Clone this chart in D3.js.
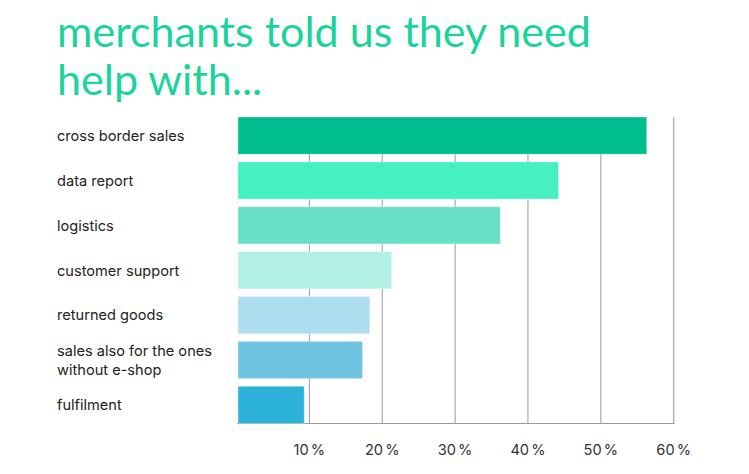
<!DOCTYPE html>
<html>
<head>
<meta charset="utf-8">
<script src="https://cdn.jsdelivr.net/npm/d3@7"></script>
<style>
  html, body { margin: 0; padding: 0; background: #fff; }
  svg { display: block; }
</style>
</head>
<body>
<svg id="chart" width="749" height="474"></svg>
<script>
const titleLines = ["merchants told us they need", "help with..."];
const categories = [
  ["cross border sales"],
  ["data report"],
  ["logistics"],
  ["customer support"],
  ["returned goods"],
  ["sales also for the ones", "without e-shop"],
  ["fulfilment"]
];
const values = [56.3, 44.2, 36.2, 21.3, 18.3, 17.3, 9.3];
const barColors = ["#00BD8F", "#47F0C3", "#67E0C5", "#B3F0E4", "#ADDEF0", "#6EC3E0", "#2DB3D9"];
const tickValues = [10, 20, 30, 40, 50, 60];
const tickLabels = ["10 %", "20 %", "30 %", "40 %", "50 %", "60 %"];

(function () {
const svg = d3.select("#chart");
const mLeft = 236.5, mRight = 673.7, mTop = 117, mBottom = 423.5;

const x = d3.scaleLinear().domain([0, 60]).range([mLeft, mRight]);
const y = d3.scaleBand().domain(d3.range(categories.length)).range([mTop, mBottom]).paddingInner(0.17).paddingOuter(0);

// Title
const title = svg.append("g").attr("fill", "#1BD39C")
  .attr("font-family", "Lato, 'Open Sans', sans-serif").attr("font-size", 40);
titleLines.forEach((t, i) => {
  title.append("text").attr("x", 57).attr("y", 47 + i * 48).text(t);
});
const firstLine = title.select("text").node();
const w = firstLine.getComputedTextLength();
title.attr("font-size", 40 * 534 / w);

// Gridlines
svg.append("g").selectAll("line").data(tickValues).join("line")
  .attr("x1", d => x(d)).attr("x2", d => x(d))
  .attr("y1", mTop).attr("y2", mBottom)
  .attr("stroke", d => d === 60 ? "#b5b5b5" : "#9a9a9a")
  .attr("stroke-width", d => d === 60 ? 1.6 : 1);

// Baseline axis
svg.append("line")
  .attr("x1", x(0) + 0.5).attr("x2", x(60) + 0.8)
  .attr("y1", mBottom).attr("y2", mBottom)
  .attr("stroke", "#9a9a9a").attr("stroke-width", 1);

// Bars
svg.append("g").selectAll("rect").data(values).join("rect")
  .attr("x", x(0) + 1.5)
  .attr("y", (d, i) => y(i))
  .attr("width", d => x(d) - x(0) - 1.5)
  .attr("height", y.bandwidth())
  .attr("fill", (d, i) => barColors[i])
  .attr("stroke", "rgba(255,255,255,0.35)")
  .attr("stroke-width", 1);

// Category labels
const labels = svg.append("g").attr("font-family", "Inter, 'Open Sans', sans-serif")
  .attr("font-size", 14.6).attr("fill", "#222");
categories.forEach((lines, i) => {
  const cy = y(i) + y.bandwidth() / 2;
  const n = lines.length;
  lines.forEach((ln, j) => {
    labels.append("text")
      .attr("x", 57)
      .attr("y", cy + (j - (n - 1) / 2) * 19)
      .attr("dy", "0.36em")
      .text(ln);
  });
});

// Tick labels
svg.append("g").attr("font-family", "Inter, 'Open Sans', sans-serif")
  .attr("font-size", 14.6).attr("fill", "#333").attr("text-anchor", "middle")
  .attr("word-spacing", "-2px")
  .selectAll("text").data(tickValues).join("text")
  .attr("x", d => x(d))
  .attr("y", 455)
  .text((d, i) => tickLabels[i]);
})();
</script>
</body>
</html>
